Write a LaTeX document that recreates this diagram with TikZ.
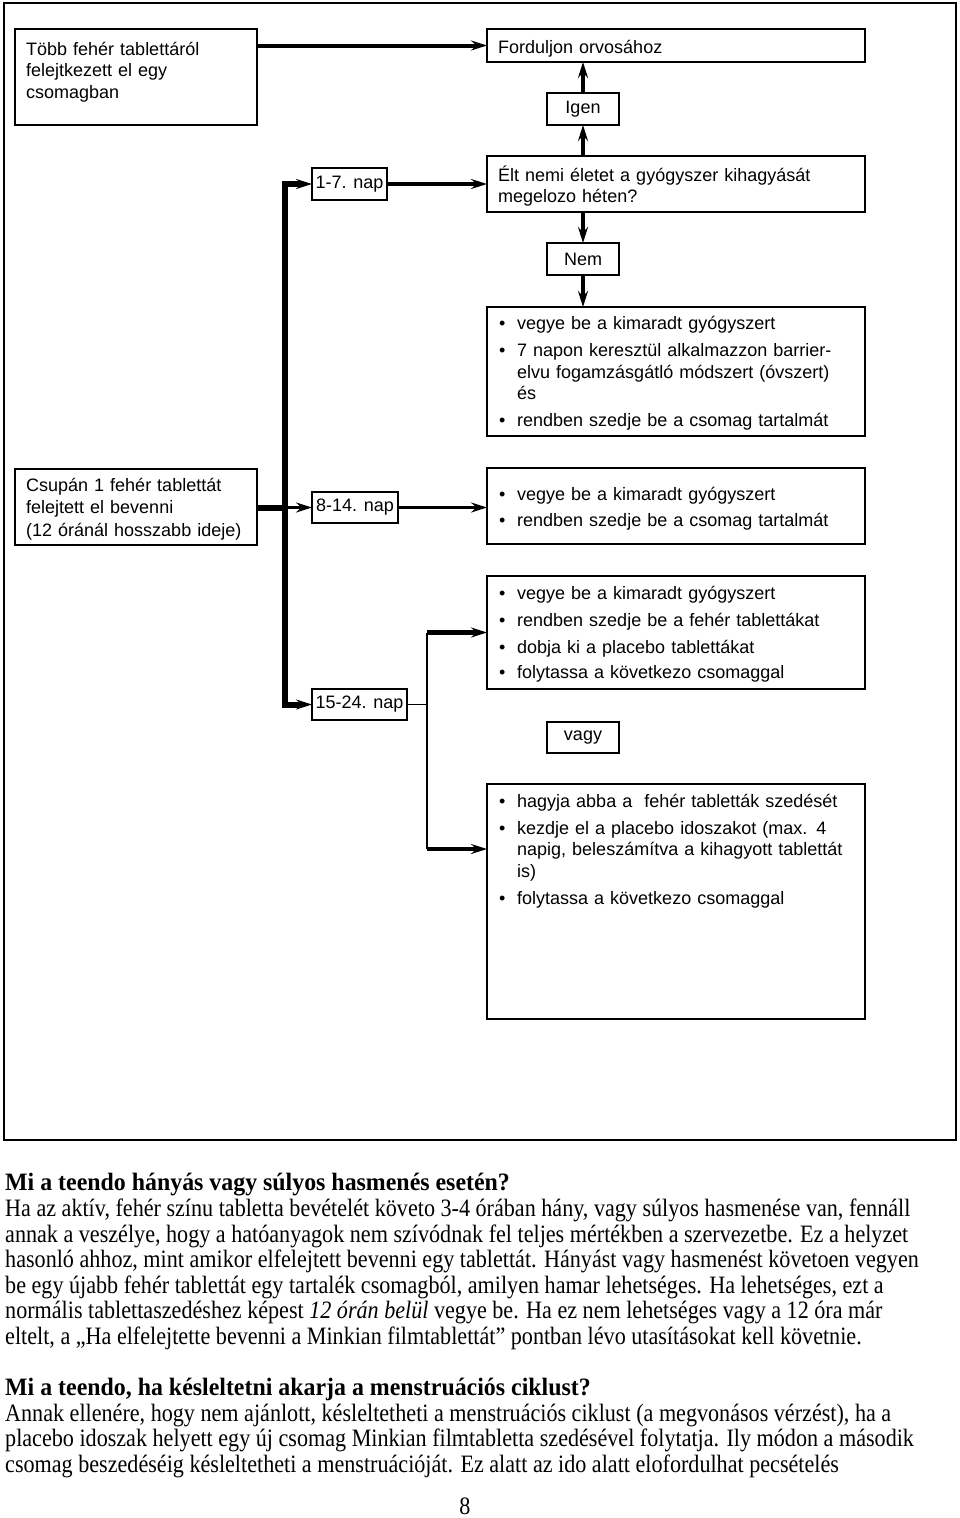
\documentclass[tikz,border=0pt]{standalone}
\usepackage{fontspec}
\newfontfamily\arialf{Liberation Sans}
\newfontfamily\bodyf[FakeStretch=0.885]{Liberation Serif}
\newfontfamily\headf[FakeStretch=0.955]{Liberation Serif}
\usetikzlibrary{arrows.meta}
\newcommand\itm[1]{\makebox[18pt][l]{\textbullet}#1}
\newcommand\cont[1]{\hspace*{18pt}#1}
\begin{document}
\begin{tikzpicture}[x=1pt,y=-1pt,
  box/.style={draw, line width=2.3pt, inner sep=0pt, outer sep=0pt, anchor=north west, font=\arialf\fontsize{18}{21.5}\selectfont},
  sbox/.style={box, line width=1.7pt},
  txt/.style={font=\arialf\fontsize{18}{21.5}\selectfont, inner sep=0pt, anchor=base west, text width=360pt, align=left},
  arr/.style={line width=3.5pt, -{Stealth[length=16pt,width=10pt,inset=5.5pt]}},
  trunk/.style={line width=6pt, line join=miter},
  body/.style={font=\bodyf\fontsize{25}{25.6}\selectfont, inner sep=0pt, anchor=base west},
  head/.style={font=\headf\bfseries\fontsize{25}{25.6}\selectfont, inner sep=0pt, anchor=base west}]
\useasboundingbox (0,0) rectangle (960,1518);
\draw[line width=1.6pt] (4,3) rectangle (956,1140);

% boxes
\node[box, minimum width=242pt, minimum height=96pt] (tobb) at (15,29) {};
\node[txt] (tobbT) at (26,55) {Több fehér tablettáról\\felejtkezett el egy\\csomagban};
\node[box, minimum width=378pt, minimum height=33pt] (fordul) at (487,29) {};
\node[txt] (fordulT) at (498,53) {Forduljon orvosához};
\node[box, minimum width=72pt, minimum height=32pt] (igen) at (547,93) {Igen};
\node[box, minimum width=378pt, minimum height=56pt] (elt) at (487,156) {};
\node[txt] (eltT) at (498,181) {Élt nemi életet a gyógyszer kihagyását\\megelozo héten?};
\node[sbox, minimum width=75pt, minimum height=32pt] (nap17) at (312,168) {1-7. nap};
\node[box, minimum width=72pt, minimum height=32pt] (nem) at (547,243) {Nem};
\node[box, minimum width=378pt, minimum height=129pt] (listA) at (487,307) {};
\node[txt] (listAT) at (499,329) {\itm{vegye be a kimaradt gyógyszert}\\[6pt]\itm{7 napon keresztül alkalmazzon barrier-}\\\cont{elvu fogamzásgátló módszert (óvszert)}\\\cont{és}\\[5.5pt]\itm{rendben szedje be a csomag tartalmát}};
\node[box, minimum width=242pt, minimum height=76pt] (csupan) at (15,469) {};
\node[txt] (csupanT) at (26,491) {Csupán 1 fehér tablettát\\[1pt]felejtett el bevenni\\[1pt](12 óránál hosszabb ideje)};
\node[sbox, minimum width=86pt, minimum height=31pt] (nap814) at (312,492) {8-14. nap};
\node[box, minimum width=378pt, minimum height=76pt] (listB) at (487,468) {};
\node[txt] (listBT) at (499,500) {\itm{vegye be a kimaradt gyógyszert}\\[4.5pt]\itm{rendben szedje be a csomag tartalmát}};
\node[box, minimum width=378pt, minimum height=113pt] (listC) at (487,576) {};
\node[txt] (listCT) at (499,599) {\itm{vegye be a kimaradt gyógyszert}\\[5.5pt]\itm{rendben szedje be a fehér tablettákat}\\[5.5pt]\itm{dobja ki a placebo tablettákat}\\[4pt]\itm{folytassa a következo csomaggal}};
\node[sbox, minimum width=95pt, minimum height=31pt] (nap1524) at (312,689) {15-24. nap};
\node[box, minimum width=72pt, minimum height=31pt] (vagy) at (547,722) {vagy};
\node[box, minimum width=378pt, minimum height=235pt] (listD) at (487,784) {};
\node[txt] (listDT) at (499,807) {\itm{hagyja abba a\ \ fehér tabletták szedését}\\[5.5pt]\itm{kezdje el a placebo idoszakot (max. 4}\\\cont{napig, beleszámítva a kihagyott tablettát}\\\cont{is)}\\[6pt]\itm{folytassa a következo csomaggal}};

% connectors
\draw[arr, line width=4pt] (tobb.east |- fordul.west) -- (fordul.west);
\draw[arr] (elt.north -| igen.south) -- (igen.south);
\draw[arr] (igen.north) -- (fordul.south -| igen.north);
\draw[arr] (elt.south -| nem.north) -- (nem.north);
\draw[arr] (nem.south) -- (listA.north -| nem.south);
\draw[arr] (nap17.east) -- (elt.west);
\path (nap17.west) ++(-27,0) coordinate (tt);
\path (nap1524.west) ++(-27,0) coordinate (tb);
\draw[trunk] (tt) ++(14,0) -- (tt) -- (tb) -- ++(14,0);
\draw[arr] (tt) -- (nap17.west);
\draw[arr] (tb) -- (nap1524.west);
\draw[trunk] (csupan.east |- nap814.west) -- (nap814.west -| tt);
\draw[arr] (nap814.west -| tt) -- (nap814.west);
\draw[arr] (nap814.east) -- (listB.west |- nap814.east);
\path (listC.west) ++(-60,0) coordinate (ct);
\coordinate (cb) at (427,849);
\draw[line width=1.7pt] (nap1524.east) -- (nap1524.east -| ct);
\draw[line width=2.6pt] (ct) -- (cb);
\draw[arr, line width=4.5pt] (ct) -- (listC.west);
\draw[arr] (cb) -- (cb -| listD.west);

% text below
\node[head] (h1) at (5,1190) {Mi a teendo hányás vagy súlyos hasmenés esetén?};
\node[body] (l1) at (5,1216) {Ha az aktív, fehér színu tabletta bevételét követo 3-4 órában hány, vagy súlyos hasmenése van, fennáll};
\node[body] (l2) at (5,1242) {annak a veszélye, hogy a hatóanyagok nem szívódnak fel teljes mértékben a szervezetbe. Ez a helyzet};
\node[body] (l3) at (5,1267) {hasonló ahhoz, mint amikor elfelejtett bevenni egy tablettát. Hányást vagy hasmenést követoen vegyen};
\node[body] (l4) at (5,1293) {be egy újabb fehér tablettát egy tartalék csomagból, amilyen hamar lehetséges. Ha lehetséges, ezt a};
\node[body] (l5) at (5,1318) {normális tablettaszedéshez képest \textit{12 órán belül} vegye be. Ha ez nem lehetséges vagy a 12 óra már};
\node[body] (l6) at (5,1344) {eltelt, a „Ha elfelejtette bevenni a Minkian filmtablettát” pontban lévo utasításokat kell követnie.};
\node[head] (h2) at (5,1395) {Mi a teendo, ha késleltetni akarja a menstruációs ciklust?};
\node[body] (l7) at (5,1421) {Annak ellenére, hogy nem ajánlott, késleltetheti a menstruációs ciklust (a megvonásos vérzést), ha a};
\node[body] (l8) at (5,1446) {placebo idoszak helyett egy új csomag Minkian filmtabletta szedésével folytatja. Ily módon a második};
\node[body] (l9) at (5,1472) {csomag beszedéséig késleltetheti a menstruációját. Ez alatt az ido alatt elofordulhat pecsételés};
\node[body, anchor=base] (pg) at (465,1514) {8};
\end{tikzpicture}
\end{document}
